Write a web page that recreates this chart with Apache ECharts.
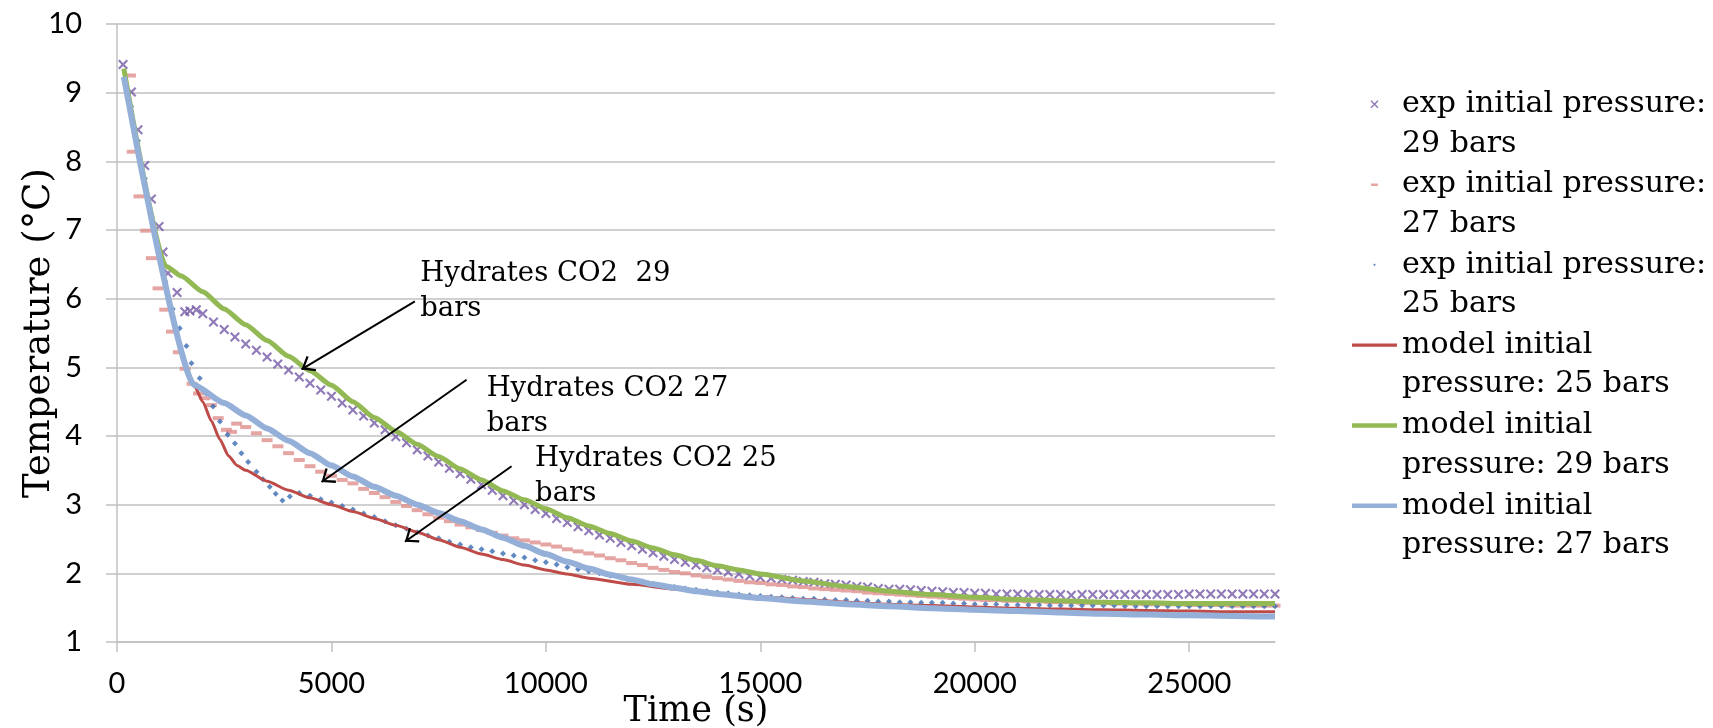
<!DOCTYPE html>
<html>
<head>
<meta charset="utf-8">
<title>Temperature vs time</title>
<script src="https://cdn.jsdelivr.net/npm/echarts@6.0.0/dist/echarts.min.js"></script>
<style>
  html, body { margin: 0; padding: 0; background: #fff; }
  #chart { width: 1713px; height: 728px; }
</style>
</head>
<body>
<div id="chart"></div>
<script>
// tick labels on the time axis
const timeTicks = [0, 5000, 10000, 15000, 20000, 25000];

// experimental points, [time (s), temperature (°C)]
const exp29 = [
  [140, 9.41], [336, 9.01], [490, 8.46], [646, 7.94], [802, 7.45], [980, 7.05], [1073, 6.68], [1190, 6.37],
  [1400, 6.09], [1580, 5.81], [1700, 5.82], [1850, 5.84],
  [2000, 5.78], [2250, 5.66], [2500, 5.55], [2750, 5.44], [3000, 5.34], [3250, 5.25], [3500, 5.15], [3750, 5.05],
  [4000, 4.96], [4250, 4.86], [4500, 4.77], [4750, 4.67], [5000, 4.58], [5250, 4.48], [5500, 4.38], [5750, 4.29],
  [6000, 4.19], [6250, 4.09], [6500, 3.99], [6750, 3.90], [7000, 3.80], [7250, 3.71], [7500, 3.62], [7750, 3.53],
  [8000, 3.45], [8250, 3.37], [8500, 3.29], [8750, 3.21], [9000, 3.13], [9250, 3.06], [9500, 3.00], [9750, 2.93],
  [10000, 2.87], [10250, 2.80], [10500, 2.74], [10750, 2.68], [11000, 2.62], [11250, 2.56], [11500, 2.51], [11750, 2.45],
  [12000, 2.40], [12250, 2.35], [12500, 2.30], [12750, 2.25], [13000, 2.20], [13250, 2.16], [13500, 2.12], [13750, 2.08],
  [14000, 2.05], [14250, 2.02], [14500, 1.99], [14750, 1.96], [15000, 1.94], [15250, 1.93], [15500, 1.91], [15750, 1.90],
  [16000, 1.88], [16250, 1.87], [16500, 1.85], [16750, 1.84], [17000, 1.83], [17250, 1.81], [17500, 1.80], [17750, 1.78],
  [18000, 1.77], [18250, 1.77], [18500, 1.76], [18750, 1.75], [19000, 1.74], [19250, 1.73], [19500, 1.72], [19750, 1.72],
  [20000, 1.71], [20250, 1.71], [20500, 1.70], [20750, 1.70], [21000, 1.70], [21250, 1.69], [21500, 1.69], [21750, 1.69],
  [22000, 1.69], [22250, 1.68], [22500, 1.69], [22750, 1.69], [23000, 1.69], [23250, 1.69], [23500, 1.69], [23750, 1.69],
  [24000, 1.69], [24250, 1.69], [24500, 1.69], [24750, 1.69], [25000, 1.70], [25250, 1.70], [25500, 1.70], [25750, 1.70],
  [26000, 1.70], [26250, 1.70], [26500, 1.70], [26750, 1.70], [27000, 1.70]
];

const exp27 = [
  [313, 9.25], [355, 8.14], [513, 7.49], [670, 6.99], [802, 6.59], [957, 6.15], [1113, 5.84], [1270, 5.52],
  [1430, 5.22], [1590, 4.98], [1750, 4.76], [1900, 4.62], [2050, 4.55], [2200, 4.45], [2360, 4.26], [2550, 4.09],
  [2670, 4.06], [2790, 4.18],
  [3000, 4.13], [3250, 4.04], [3500, 3.94], [3750, 3.85], [4000, 3.75], [4250, 3.65], [4500, 3.56], [4750, 3.48],
  [5000, 3.42], [5250, 3.36], [5500, 3.31], [5750, 3.23], [6000, 3.17], [6250, 3.11], [6500, 3.04], [6750, 2.98],
  [7000, 2.92], [7250, 2.86], [7500, 2.81], [7750, 2.76], [8000, 2.71], [8250, 2.67], [8500, 2.63], [8750, 2.59],
  [9000, 2.55], [9250, 2.51], [9500, 2.48], [9750, 2.45], [10000, 2.42], [10250, 2.39], [10500, 2.35], [10750, 2.32],
  [11000, 2.29], [11250, 2.26], [11500, 2.22], [11750, 2.19], [12000, 2.15], [12250, 2.12], [12500, 2.08], [12750, 2.05],
  [13000, 2.02], [13250, 2.00], [13500, 1.97], [13750, 1.95], [14000, 1.93], [14250, 1.91], [14500, 1.89], [14750, 1.87],
  [15000, 1.86], [15250, 1.84], [15500, 1.83], [15750, 1.81], [16000, 1.80], [16250, 1.78], [16500, 1.77], [16750, 1.76],
  [17000, 1.75], [17250, 1.74], [17500, 1.72], [17750, 1.71], [18000, 1.70], [18250, 1.69], [18500, 1.68], [18750, 1.67],
  [19000, 1.66], [19250, 1.65], [19500, 1.64], [19750, 1.63], [20000, 1.62], [20250, 1.61], [20500, 1.61], [20750, 1.60],
  [21000, 1.60], [21250, 1.59], [21500, 1.59], [21750, 1.58], [22000, 1.58], [22250, 1.58], [22500, 1.57], [22750, 1.57],
  [23000, 1.57], [23250, 1.56], [23500, 1.56], [23750, 1.56], [24000, 1.55], [24250, 1.55], [24500, 1.55], [24750, 1.55],
  [25000, 1.54], [25250, 1.54], [25500, 1.54], [25750, 1.54], [26000, 1.53], [26250, 1.53], [26500, 1.53], [26750, 1.53],
  [27000, 1.53]
];

const exp25 = [
  [170, 9.20], [330, 8.80], [490, 8.30], [650, 7.75], [810, 7.20], [970, 6.70], [1130, 6.25], [1300, 5.85],
  [1463, 5.57], [1619, 5.31], [1735, 5.06], [1930, 4.84], [2080, 4.62], [2240, 4.43], [2400, 4.21], [2580, 4.02],
  [2750, 3.89], [2900, 3.75], [3057, 3.62], [3252, 3.48], [3400, 3.37], [3562, 3.26], [3700, 3.16], [3858, 3.06],
  [4029, 3.12],
  [4250, 3.17], [4500, 3.13], [4750, 3.08], [5000, 3.03], [5250, 2.98], [5500, 2.93], [5750, 2.87], [6000, 2.82],
  [6250, 2.76], [6500, 2.70], [6750, 2.65], [7000, 2.60], [7250, 2.55], [7500, 2.51], [7750, 2.46], [8000, 2.42],
  [8250, 2.38], [8500, 2.35], [8750, 2.32], [9000, 2.29], [9250, 2.26], [9500, 2.23], [9750, 2.19], [10000, 2.16],
  [10250, 2.13], [10500, 2.09], [10750, 2.06], [11000, 2.03], [11250, 2.00], [11500, 1.97], [11750, 1.94], [12000, 1.91],
  [12250, 1.88], [12500, 1.85], [12750, 1.82], [13000, 1.80], [13250, 1.78], [13500, 1.76], [13750, 1.74], [14000, 1.72],
  [14250, 1.71], [14500, 1.69], [14750, 1.68], [15000, 1.67], [15250, 1.66], [15500, 1.65], [15750, 1.64], [16000, 1.63],
  [16250, 1.63], [16500, 1.62], [16750, 1.61], [17000, 1.61], [17250, 1.60], [17500, 1.60], [17750, 1.59], [18000, 1.59],
  [18250, 1.58], [18500, 1.58], [18750, 1.57], [19000, 1.57], [19250, 1.57], [19500, 1.56], [19750, 1.56], [20000, 1.55],
  [20250, 1.55], [20500, 1.55], [20750, 1.54], [21000, 1.54], [21250, 1.54], [21500, 1.54], [21750, 1.53], [22000, 1.53],
  [22250, 1.53], [22500, 1.53], [22750, 1.53], [23000, 1.53], [23250, 1.53], [23500, 1.52], [23750, 1.52], [24000, 1.52],
  [24250, 1.52], [24500, 1.52], [24750, 1.52], [25000, 1.52], [25250, 1.52], [25500, 1.52], [25750, 1.52], [26000, 1.52],
  [26250, 1.52], [26500, 1.52], [26750, 1.52], [27000, 1.52]
];

// model curves, [time (s), temperature (°C)]
const model25 = [
  [160, 9.20], [1810, 4.72], [2000, 4.50], [2200, 4.22], [2400, 3.95], [2600, 3.71], [2800, 3.57], [3000, 3.50],
  [3500, 3.34], [4000, 3.21], [4500, 3.10], [5000, 3.00], [5500, 2.90], [6000, 2.80], [6500, 2.70], [7000, 2.60],
  [7500, 2.49], [8000, 2.38], [8500, 2.28], [9000, 2.20], [9500, 2.12], [10000, 2.05], [10500, 1.99], [11000, 1.93],
  [12000, 1.84], [13000, 1.77], [14000, 1.71], [15000, 1.66], [16000, 1.62], [17000, 1.58], [18000, 1.55], [19000, 1.53],
  [20000, 1.51], [21000, 1.49], [22000, 1.48], [23000, 1.47], [24000, 1.46], [25000, 1.45], [26000, 1.44], [27000, 1.44]
];

const model29 = [
  [160, 9.35], [1150, 6.47], [1500, 6.33], [2000, 6.10], [2500, 5.85], [3000, 5.62], [3500, 5.39], [4000, 5.16],
  [4500, 4.95], [5000, 4.74], [5500, 4.50], [6000, 4.27], [6500, 4.07], [7000, 3.88], [7500, 3.70], [8000, 3.52],
  [8500, 3.36], [9000, 3.20], [9500, 3.07], [10000, 2.94], [10500, 2.81], [11000, 2.69], [11500, 2.58], [12000, 2.47],
  [12500, 2.37], [13000, 2.27], [13500, 2.19], [14000, 2.11], [14500, 2.05], [15000, 1.99], [16000, 1.89], [17000, 1.81],
  [18000, 1.74], [19000, 1.69], [20000, 1.65], [21000, 1.62], [22000, 1.60], [23000, 1.58], [24000, 1.57], [25000, 1.56],
  [26000, 1.56], [27000, 1.56]
];

const model27 = [
  [160, 9.23], [1810, 4.74], [2500, 4.48], [3000, 4.30], [3500, 4.11], [4000, 3.93], [4500, 3.75], [5000, 3.57],
  [5500, 3.41], [6000, 3.26], [6500, 3.13], [7000, 3.00], [7500, 2.88], [8000, 2.76], [8500, 2.64], [9000, 2.52],
  [9500, 2.40], [10000, 2.28], [10500, 2.17], [11000, 2.07], [11500, 1.98], [12000, 1.91], [12500, 1.84], [13000, 1.79],
  [13500, 1.74], [14000, 1.70], [15000, 1.64], [16000, 1.59], [17000, 1.55], [18000, 1.52], [19000, 1.49], [20000, 1.47],
  [21000, 1.45], [22000, 1.43], [23000, 1.41], [24000, 1.40], [25000, 1.39], [26000, 1.38], [27000, 1.37]
];

// series names and the two-line text shown in the legend
const names = [
  'exp initial pressure: 29 bars',
  'exp initial pressure: 27 bars',
  'exp initial pressure: 25 bars',
  'model initial pressure: 25 bars',
  'model initial pressure: 29 bars',
  'model initial pressure: 27 bars'
];
const legendText = {
  'exp initial pressure: 29 bars': 'exp initial pressure:\n29 bars',
  'exp initial pressure: 27 bars': 'exp initial pressure:\n27 bars',
  'exp initial pressure: 25 bars': 'exp initial pressure:\n25 bars',
  'model initial pressure: 25 bars': 'model initial\npressure: 25 bars',
  'model initial pressure: 29 bars': 'model initial\npressure: 29 bars',
  'model initial pressure: 27 bars': 'model initial\npressure: 27 bars'
};

// annotations in data coordinates: text box corner, arrow start, arrow tip
const notes = [
  { text: 'Hydrates CO2  29\nbars', at: [7080, 6.61], from: [6945, 5.96], to: [4302, 4.97] },
  { text: 'Hydrates CO2 27\nbars', at: [8630, 4.93], from: [8151, 4.82], to: [4768, 3.33] },
  { text: 'Hydrates CO2 25\nbars', at: [9760, 3.91], from: [9200, 3.56], to: [6712, 2.46] }
];

const colors = {
  exp29: '#7459a6',
  exp27: '#de8f8c',
  exp25: '#3a6cb2',
  model25: '#be4b48',
  model29: '#93b955',
  model27: '#94b0d8',
  grid: '#c0c0c0'
};

const crossPath = 'path://M0,1.5L1.5,0L5,3.5L8.5,0L10,1.5L6.5,5L10,8.5L8.5,10L5,6.5L1.5,10L0,8.5L3.5,5Z';
// legend icons keep a fixed box so the small marks stay small
const crossIcon = 'path://M0,0L0.01,0.01M10,10L10.01,10.01M1,2L2,1L5,4L8,1L9,2L6,5L9,8L8,9L5,6L2,9L1,8L4,5Z';
const dashIcon = 'path://M0,0L0.01,0.01M10,10L10.01,10.01M1.5,4L8.5,4L8.5,6.4L1.5,6.4Z';
const dotIcon = 'path://M0,0L0.01,0.01M10,10L10.01,10.01M5,3.7L6.3,5L5,6.3L3.7,5Z';
const thinLine = 'path://M0,0L0.01,0.01M45,10L45.01,10.01M0,3.3L45,3.3L45,6.7L0,6.7Z';
const thickLine = 'path://M0,0L0.01,0.01M45,10L45.01,10.01M0,2.8L45,2.8L45,7.2L0,7.2Z';
// open arrow head, tip in the middle of its box
const arrowHead = 'path://M0,0L0.01,0.01M20,20L20.01,20.01M10,10L15.6,17L14.5,17.9L10,12.2L5.5,17.9L4.4,17Z';

const serif = 'DejaVu Serif';
const sans = 'Lato';

const chart = echarts.init(document.getElementById('chart'));

const option = {
  animation: false,
  backgroundColor: '#fff',
  grid: { left: 117, right: 438, top: 24, bottom: 86, outerBoundsMode: 'none', containLabel: false },
  xAxis: {
    type: 'value',
    min: 0,
    max: 27000,
    interval: 5000,
    name: 'Time (s)',
    nameLocation: 'middle',
    nameGap: 52,
    nameMoveOverlap: false,
    nameTextStyle: { fontFamily: serif, fontSize: 35, color: '#000' },
    axisLine: { show: true, lineStyle: { color: colors.grid, width: 1.5 } },
    axisTick: { show: true, length: 10, lineStyle: { color: colors.grid, width: 1.5 }, customValues: timeTicks },
    axisLabel: {
      fontFamily: sans, fontSize: 29, color: '#000', margin: 27,
      customValues: timeTicks, formatter: (v) => String(v)
    },
    splitLine: { show: false }
  },
  yAxis: {
    type: 'value',
    min: 1,
    max: 10,
    interval: 1,
    name: 'Temperature (°C)',
    nameLocation: 'middle',
    nameGap: 59,
    nameMoveOverlap: false,
    nameTextStyle: { fontFamily: serif, fontSize: 37, color: '#000' },
    axisLine: { show: true, lineStyle: { color: colors.grid, width: 1.5 } },
    axisTick: { show: true, length: 11, lineStyle: { color: colors.grid, width: 1.5 } },
    axisLabel: { fontFamily: sans, fontSize: 29, color: '#000', margin: 35 },
    splitLine: { show: true, lineStyle: { color: colors.grid, width: 1.5 } }
  },
  legend: {
    orient: 'vertical',
    left: 1352,
    top: 45,
    padding: 0,
    itemWidth: 45,
    itemHeight: 10,
    itemGap: -38.2,
    selectedMode: false,
    // the empty first line puts the icon beside the first text line
    formatter: (name) => '\n' + legendText[name],
    textStyle: { fontFamily: serif, fontSize: 30, lineHeight: 39.5, color: '#000' },
    data: [
      { name: names[0], icon: crossIcon },
      { name: names[1], icon: dashIcon },
      { name: names[2], icon: dotIcon },
      { name: names[3], icon: thinLine },
      { name: names[4], icon: thickLine },
      { name: names[5], icon: thickLine }
    ]
  },
  series: [
    {
      name: names[0], type: 'scatter', data: exp29,
      symbol: crossPath, symbolSize: 10,
      itemStyle: { color: colors.exp29 }
    },
    {
      name: names[1], type: 'scatter', data: exp27,
      symbol: 'rect', symbolSize: [11, 4],
      itemStyle: { color: colors.exp27 }
    },
    {
      name: names[2], type: 'scatter', data: exp25,
      symbol: 'diamond', symbolSize: 6,
      itemStyle: { color: colors.exp25 }
    },
    {
      name: names[3], type: 'line', data: model25,
      symbol: 'none', smooth: 0.2, smoothMonotone: 'x',
      lineStyle: { color: colors.model25, width: 3 },
      itemStyle: { color: colors.model25 }
    },
    {
      name: names[4], type: 'line', data: model29,
      symbol: 'none', smooth: 0.2, smoothMonotone: 'x',
      lineStyle: { color: colors.model29, width: 5 },
      itemStyle: { color: colors.model29 }
    },
    {
      name: names[5], type: 'line', data: model27,
      symbol: 'none', smooth: 0.2, smoothMonotone: 'x',
      lineStyle: { color: colors.model27, width: 6 },
      itemStyle: { color: colors.model27 }
    },
    {
      name: 'notes', type: 'scatter', silent: true, z: 5,
      symbolSize: 1,
      itemStyle: { color: 'rgba(0,0,0,0)' },
      data: notes.map(n => ({ value: n.at, label: { formatter: n.text } })),
      label: {
        show: true, position: [0, 0], align: 'left', verticalAlign: 'top',
        fontFamily: serif, fontSize: 27.5, lineHeight: 35, color: '#000',
        textBorderWidth: 0, opacity: 1
      },
      markLine: {
        silent: true,
        symbol: ['none', arrowHead],
        symbolSize: 32,
        label: { show: false },
        lineStyle: { color: '#000', width: 2, type: 'solid' },
        data: notes.map(n => [{ coord: n.from }, { coord: n.to }])
      }
    }
  ]
};

chart.setOption(option);
</script>
</body>
</html>
